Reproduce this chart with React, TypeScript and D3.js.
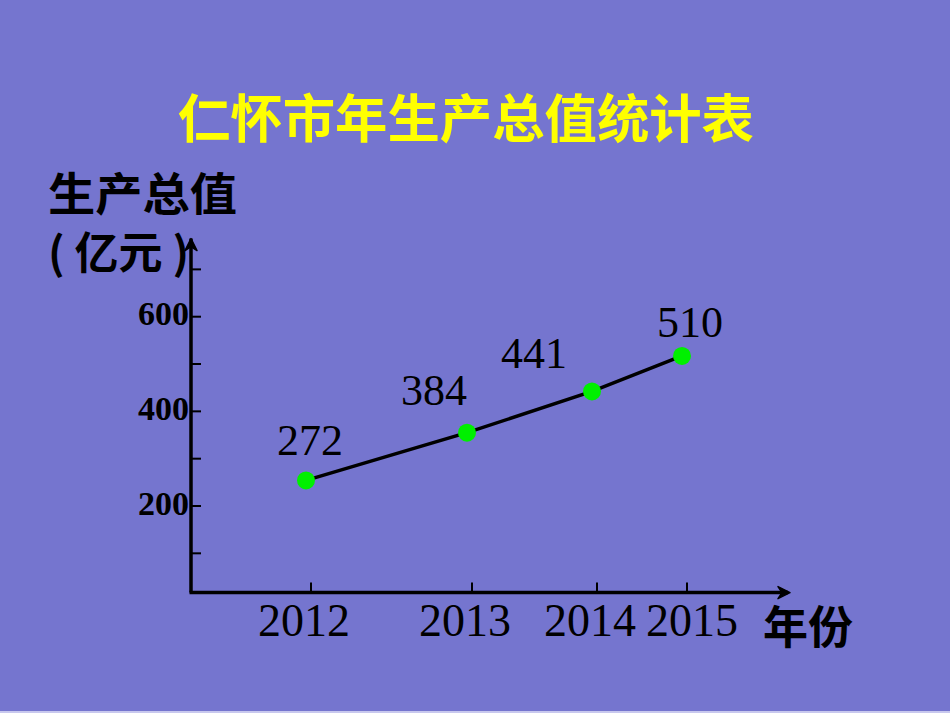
import React, {useEffect, useRef} from 'react';
import * as d3 from 'd3';

// Chart data
const years = ['2012', '2013', '2014', '2015'];
const valueLabels = [272, 384, 441, 510];
// values as they are actually plotted in the picture
const plottedValues = [254, 355, 442, 517];
const yTickValues = [100, 200, 300, 400, 500, 600, 700];
const yTickLabels = [200, 400, 600];

const title = '仁怀市年生产总值统计表';
const yTitle1 = '生产总值';
const yTitle2 = '( 亿元 )';
const xTitle = '年份';

// label placement relative to each point (styling)
const labelOffsets = [
  [4, -25],
  [-33, -28],
  [-58, -23],
  [8, -19],
];

const W = 950;
const H = 713;
const CJK = '"Noto Sans CJK SC", "Noto Sans", sans-serif';
const SERIF = '"Liberation Serif", "Times New Roman", serif';

const App: React.FC = () => {
  const svgRef = useRef<SVGSVGElement>(null);

  useEffect(() => {
    if (!svgRef.current) return;
    const svg = d3.select(svgRef.current);
    svg.selectAll('*').remove();

    svg
      .append('rect')
      .attr('width', W)
      .attr('height', H)
      .attr('fill', '#7575cf');
    svg
      .append('rect')
      .attr('y', H - 2)
      .attr('width', W)
      .attr('height', 2)
      .attr('fill', '#c8c8ee');

    // Scales
    const axisX = 191;
    const y = d3.scaleLinear().domain([200, 600]).range([506, 316.7]);
    const axisY = y(17);
    const x = d3
      .scaleOrdinal<string, number>()
      .domain(years)
      .range([306, 467, 592, 682]);
    const tickShift = 5;

    // Title
    svg
      .append('text')
      .attr('x', 466)
      .attr('y', 138)
      .attr('text-anchor', 'middle')
      .attr('font-family', CJK)
      .attr('font-weight', 'bold')
      .attr('font-size', 52)
      .attr('textLength', 576)
      .attr('lengthAdjust', 'spacingAndGlyphs')
      .attr('fill', '#ffff00')
      .text(title);

    // Y axis titles
    svg
      .append('text')
      .attr('x', 48)
      .attr('y', 211)
      .attr('font-family', CJK)
      .attr('font-weight', 'bold')
      .attr('font-size', 45)
      .attr('textLength', 189)
      .attr('lengthAdjust', 'spacingAndGlyphs')
      .attr('fill', '#000')
      .text(yTitle1);
    svg
      .append('text')
      .attr('x', 48)
      .attr('y', 269)
      .attr('font-family', CJK)
      .attr('font-weight', 'bold')
      .attr('font-size', 44)
      .attr('fill', '#000')
      .text(yTitle2);

    // Y axis
    const yTop = y(765);
    svg
      .append('line')
      .attr('x1', axisX)
      .attr('x2', axisX)
      .attr('y1', axisY)
      .attr('y2', yTop)
      .attr('stroke', '#000')
      .attr('stroke-width', 3.5);
    svg
      .append('path')
      .attr(
        'd',
        `M${axisX - 6},${yTop + 12} L${axisX},${yTop} L${axisX + 6},${yTop + 12} L${axisX},${yTop + 8} Z`,
      )
      .attr('fill', '#000')
      .attr('stroke', '#000')
      .attr('stroke-width', 1.5)
      .attr('stroke-linejoin', 'round');

    svg
      .append('g')
      .selectAll('line')
      .data(yTickValues)
      .enter()
      .append('line')
      .attr('x1', axisX)
      .attr('x2', axisX + 10)
      .attr('y1', (d) => y(d))
      .attr('y2', (d) => y(d))
      .attr('stroke', '#000')
      .attr('stroke-width', 2);

    svg
      .append('g')
      .selectAll('text')
      .data(yTickLabels)
      .enter()
      .append('text')
      .attr('x', axisX - 2)
      .attr('y', (d) => y(d) + 8.5)
      .attr('text-anchor', 'end')
      .attr('font-family', SERIF)
      .attr('font-weight', 'bold')
      .attr('font-size', 34)
      .attr('fill', '#000')
      .text((d) => d);

    // X axis
    const xEnd = 790;
    svg
      .append('line')
      .attr('x1', axisX - 1.5)
      .attr('x2', xEnd - 2)
      .attr('y1', axisY)
      .attr('y2', axisY)
      .attr('stroke', '#000')
      .attr('stroke-width', 3.5);
    svg
      .append('path')
      .attr(
        'd',
        `M${xEnd - 12},${axisY - 6} L${xEnd},${axisY} L${xEnd - 12},${axisY + 6} L${xEnd - 8},${axisY} Z`,
      )
      .attr('fill', '#000')
      .attr('stroke', '#000')
      .attr('stroke-width', 1.5)
      .attr('stroke-linejoin', 'round');

    svg
      .append('g')
      .selectAll('line')
      .data(years)
      .enter()
      .append('line')
      .attr('x1', (d) => x(d) + tickShift)
      .attr('x2', (d) => x(d) + tickShift)
      .attr('y1', axisY)
      .attr('y2', axisY - 10)
      .attr('stroke', '#000')
      .attr('stroke-width', 2);

    svg
      .append('g')
      .selectAll('text')
      .data(years)
      .enter()
      .append('text')
      .attr('x', (d, i) => x(d) + (i === 3 ? 10 : -2))
      .attr('y', 636)
      .attr('text-anchor', 'middle')
      .attr('font-family', SERIF)
      .attr('font-size', 46)
      .attr('fill', '#000')
      .text((d) => d);

    svg
      .append('text')
      .attr('x', 763)
      .attr('y', 644)
      .attr('font-family', CJK)
      .attr('font-weight', 'bold')
      .attr('font-size', 45)
      .attr('fill', '#000')
      .text(xTitle);

    // Line + points
    const points = years.map((yr, i) => ({
      year: yr,
      value: plottedValues[i],
      label: valueLabels[i],
      off: labelOffsets[i],
    }));

    const line = d3
      .line<(typeof points)[number]>()
      .x((d) => x(d.year))
      .y((d) => y(d.value));

    svg
      .append('path')
      .datum(points)
      .attr('d', line)
      .attr('fill', 'none')
      .attr('stroke', '#000')
      .attr('stroke-width', 3.5);

    svg
      .append('g')
      .selectAll('circle')
      .data(points)
      .enter()
      .append('circle')
      .attr('cx', (d) => x(d.year))
      .attr('cy', (d) => y(d.value))
      .attr('r', 9)
      .attr('fill', '#00f000');

    svg
      .append('g')
      .selectAll('text')
      .data(points)
      .enter()
      .append('text')
      .attr('x', (d) => x(d.year) + d.off[0])
      .attr('y', (d) => y(d.value) + d.off[1])
      .attr('text-anchor', 'middle')
      .attr('font-family', SERIF)
      .attr('font-size', 44)
      .attr('fill', '#000')
      .text((d) => d.label);
  }, []);

  return (
    <svg
      ref={svgRef}
      width={W}
      height={H}
      style={{position: 'fixed', left: 0, top: 0, display: 'block'}}
    />
  );
};

export default App;
